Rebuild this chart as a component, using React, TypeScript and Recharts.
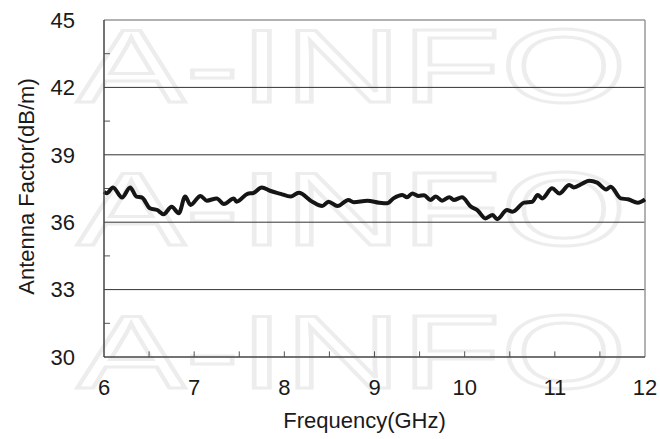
import React from 'react';
import { LineChart, Line, XAxis, YAxis, ReferenceLine } from 'recharts';

const freqGHz = [
  6.0, 6.03, 6.1, 6.2, 6.29, 6.36, 6.42, 6.51, 6.59, 6.66, 6.75, 6.83, 6.9, 6.96,
  7.07, 7.14, 7.25, 7.33, 7.44, 7.47, 7.59, 7.66, 7.75, 7.84, 7.96, 8.07, 8.16,
  8.31, 8.42, 8.49, 8.59, 8.71, 8.77, 8.92, 9.05, 9.14, 9.21, 9.31, 9.36, 9.42,
  9.49, 9.55, 9.62, 9.68, 9.75, 9.83, 9.88, 9.97, 10.07, 10.14, 10.23, 10.31,
  10.36, 10.47, 10.53, 10.66, 10.75, 10.81, 10.86, 10.97, 11.05, 11.16, 11.21,
  11.31, 11.38, 11.47, 11.57, 11.62, 11.73, 11.81, 11.92, 12.0,
];
const antennaFactor = [
  37.36, 37.29, 37.55, 37.1, 37.55, 37.14, 37.1, 36.62, 36.54, 36.35, 36.69, 36.4,
  37.14, 36.77, 37.17, 36.96, 37.06, 36.81, 37.06, 36.91, 37.26, 37.31, 37.55,
  37.4, 37.26, 37.14, 37.31, 36.91, 36.72, 36.91, 36.72, 36.99, 36.89, 36.96,
  36.87, 36.84, 37.06, 37.21, 37.11, 37.28, 37.17, 37.2, 36.99, 37.14, 36.96,
  37.11, 36.99, 37.11, 36.69, 36.54, 36.17, 36.32, 36.13, 36.54, 36.47, 36.87,
  36.91, 37.21, 37.06, 37.51, 37.28, 37.66, 37.55, 37.73, 37.85, 37.76, 37.46,
  37.58, 37.06, 37.02, 36.87, 37.02,
];
const xTicks = [6, 7, 8, 9, 10, 11, 12];
const yTicks = [30, 33, 36, 39, 42, 45];
const gridValues = [33, 36, 39, 42];
const xMinorTicks = [6.5, 7, 7.5, 8, 8.5, 9, 9.5, 10, 10.5, 11, 11.5];
const yMinorTicks = [31.5, 34.5, 37.5, 40.5, 43.5];
const watermarkRows = ['A-INFO', 'A-INFO', 'A-INFO'];

const data = freqGHz.map((f, i) => ({ f, af: antennaFactor[i] }));

const FONT = '"Liberation Sans", Arial, sans-serif';

const YLabel = (props: any) => {
  const vb = props.viewBox || {};
  const cx = vb.x + 26;
  const cy = vb.y + vb.height / 2 - 2;
  return (
    <text
      x={cx}
      y={cy}
      transform={`rotate(-90, ${cx}, ${cy})`}
      textAnchor="middle"
      dominantBaseline="central"
      fontFamily={FONT}
      fontSize={22}
      fill="#1a1a1a"
    >
      Antenna Factor(dB/m)
    </text>
  );
};

const XLabel = (props: any) => {
  const vb = props.viewBox || {};
  const cx = vb.x + vb.width / 2 - 10;
  return (
    <text x={cx} y={vb.y + 71} textAnchor="middle" fontFamily={FONT} fontSize={22} fill="#1a1a1a">
      Frequency(GHz)
    </text>
  );
};

export default function App() {
  return (
    <div style={{ position: 'absolute', left: 0, top: 0, width: 660, height: 439, background: '#fff' }}>
      <svg width={660} height={439} style={{ position: 'absolute', left: 0, top: 0 }}>
        {watermarkRows.map((w, i) => (
          <text
            key={i}
            x={77}
            y={102 + i * 143}
            textLength={550}
            lengthAdjust="spacingAndGlyphs"
            fontFamily={FONT}
            fontSize={104}
            fill="none"
            stroke="#ededed"
            strokeWidth={3}
          >
            {w}
          </text>
        ))}
      </svg>
      <div style={{ position: 'absolute', left: 0, top: 0 }}>
        <LineChart width={660} height={439} data={data} margin={{ top: 20, right: 15, bottom: 0, left: 0 }}>
          <XAxis
            type="number"
            dataKey="f"
            domain={[6, 12]}
            ticks={xTicks}
            tickLine={false}
            tickSize={0}
            tickMargin={22}
            height={82}
            axisLine={{ stroke: '#444', strokeWidth: 1.5 }}
            tick={{ fontFamily: FONT, fontSize: 22, fill: '#1a1a1a' }}
            label={<XLabel />}
          />
          <YAxis
            type="number"
            domain={[30, 45]}
            ticks={yTicks}
            tickLine={false}
            tickSize={0}
            tickMargin={29}
            width={104}
            axisLine={{ stroke: '#444', strokeWidth: 1.5 }}
            tick={{ fontFamily: FONT, fontSize: 22, fill: '#1a1a1a' }}
            label={<YLabel />}
          />
          {gridValues.map((v) => (
            <ReferenceLine key={'g' + v} y={v} stroke="#333" strokeWidth={1} />
          ))}
          <ReferenceLine y={45} stroke="#999" strokeWidth={1.5} />
          <ReferenceLine x={12} stroke="#999" strokeWidth={1.5} />
          {xMinorTicks.map((v) => (
            <ReferenceLine
              key={'xm' + v}
              segment={[{ x: v, y: 30 }, { x: v, y: 30.25 }]}
              stroke="#555"
              strokeWidth={1}
            />
          ))}
          {yMinorTicks.map((v) => (
            <ReferenceLine
              key={'ym' + v}
              segment={[{ x: 6, y: v }, { x: 6.067, y: v }]}
              stroke="#555"
              strokeWidth={1}
            />
          ))}
          <Line
            type="monotone"
            dataKey="af"
            stroke="#151515"
            strokeWidth={4}
            dot={false}
            isAnimationActive={false}
          />
        </LineChart>
      </div>
    </div>
  );
}
